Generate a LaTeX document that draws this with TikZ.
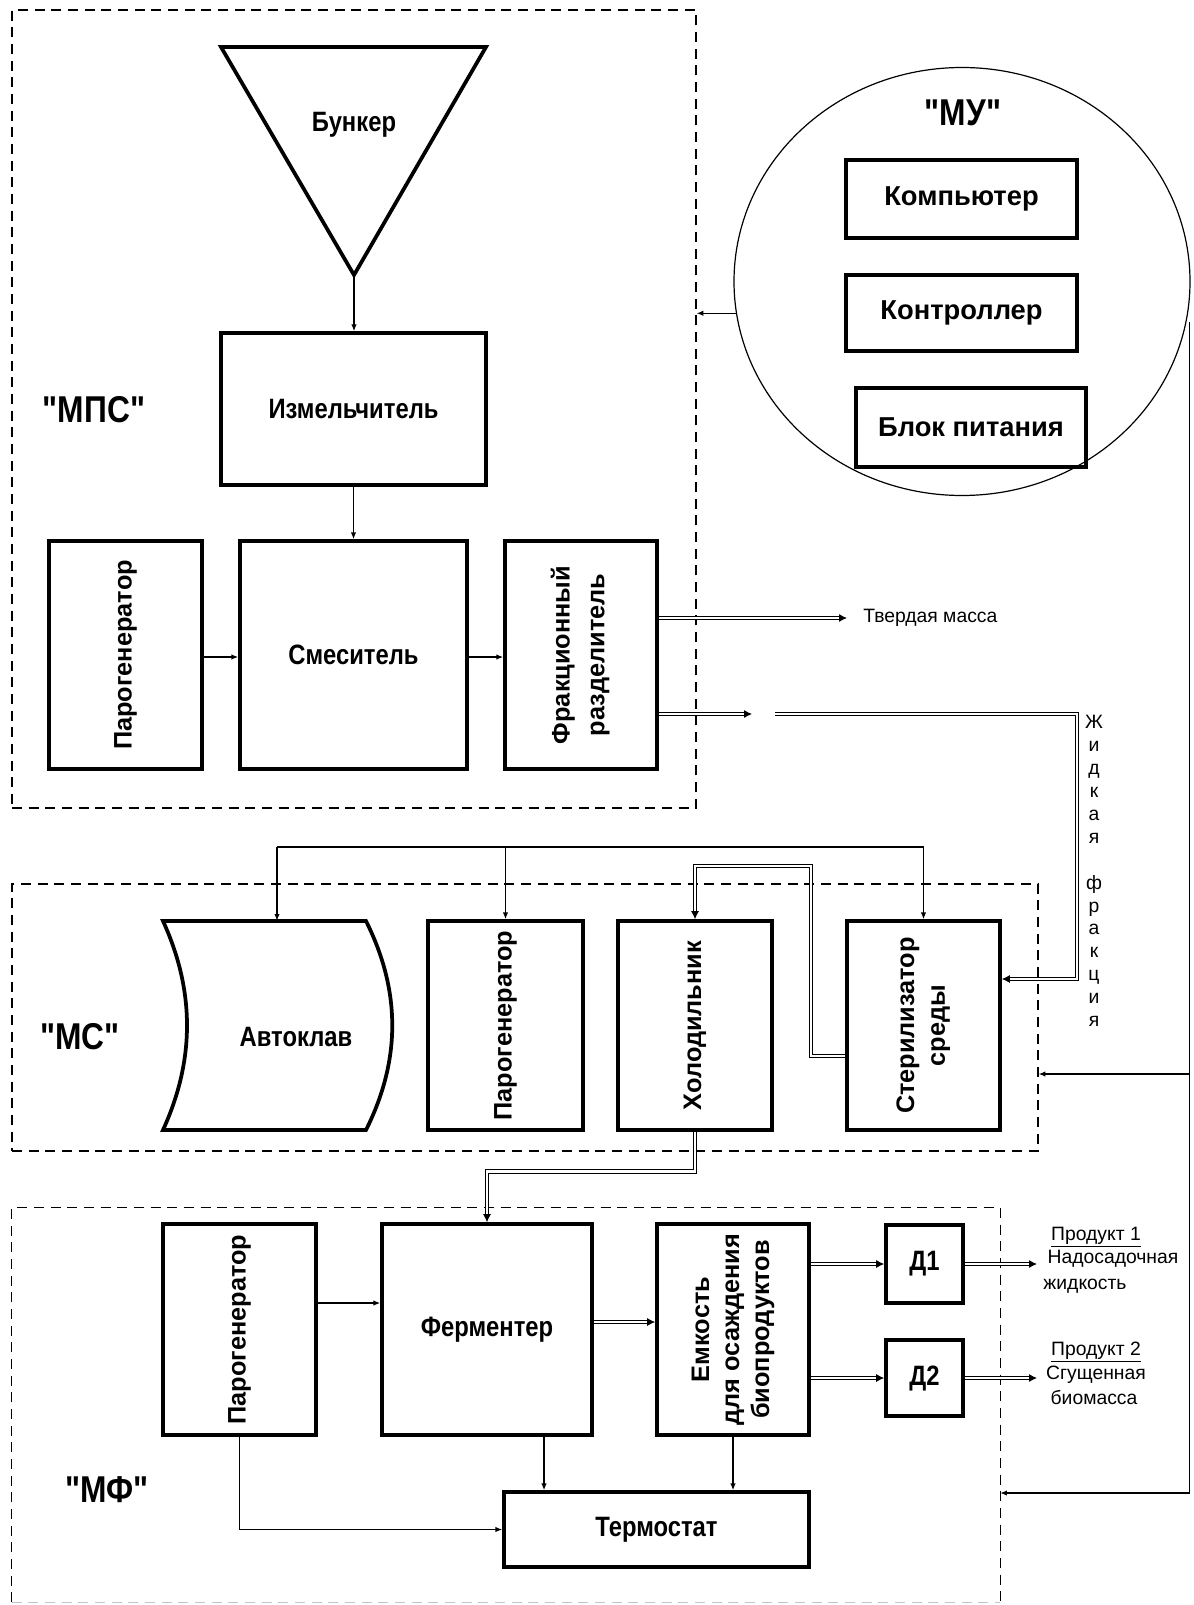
\documentclass[tikz,border=0pt]{standalone}
\usepackage{fontspec}
\setmainfont{Liberation Sans}
\newfontfamily\narrowfont[FakeStretch=0.85]{Liberation Sans}
\usetikzlibrary{arrows.meta,calc,fit,shapes.geometric}
\begin{document}
\begin{tikzpicture}[x=0.75pt,y=-0.75pt,
  box/.style={draw, line width=2.8pt, inner sep=0pt, align=center},
  nb/.style={font=\narrowfont\bfseries\fontsize{21}{24}\selectfont},
  rb/.style={font=\bfseries\fontsize{19}{22.5}\selectfont},
  mb/.style={font=\bfseries\fontsize{20.5}{24}\selectfont},
  big/.style={font=\narrowfont\bfseries\fontsize{28}{30}\selectfont, inner sep=0pt},
  lbl/.style={font=\fontsize{14.5}{17.2}\selectfont, inner sep=0pt},
  group/.style={line width=1pt, dash pattern=on 7.5pt off 5pt},
  arr/.style={line width=0.8pt, -{Latex[length=5pt,width=4pt]}},
  thinl/.style={line width=0.8pt},
  dline/.style={double, line width=0.7pt, double distance=2.2pt},
  darr/.style={dline, -{Latex[length=6pt,width=6pt]}}
]
\useasboundingbox (0,0) rectangle (1193,1605);

% ---------- group frames ----------
\node[group, draw, fit={(12,10) (696,808)}, inner sep=0pt] (mps) {};
\node[group, draw, fit={(12,884) (1038,1151)}, inner sep=0pt] (ms) {};
\node[fit={(12,1208) (1000,1602)}, inner sep=0pt] (mf) {};
\draw[group] (mf.south west) -- (mf.north west) -- (mf.north east) -- (mf.south east);
\draw[group, gray!45] (mf.south west) -- (mf.south east);

\node[big] (lmps) at (94,410) {"МПС"};
\node[big] (lms) at (80,1037) {"МС"};
\node[big] (lmf) at (107,1490) {"МФ"};

% ---------- MPS ----------
\draw[line width=2.8pt] (221,47) -- (486,47) -- (354,275) -- cycle;
\node[nb] (bunker) at (354,125) {Бункер};
\coordinate (bunkerTip) at (354,275);
\node[box, nb, minimum width=198.75pt, minimum height=114pt] (izm) at (353.5,409) {Измельчитель};
\node[box, rb, minimum width=114.75pt, minimum height=171pt] (par1) at (125.5,655) {\rotatebox{90}{Парогенератор}};
\node[box, nb, minimum width=170.25pt, minimum height=171pt] (smes) at (353.5,655) {Смеситель};
\node[box, rb, minimum width=114pt, minimum height=171pt] (frac) at (581,655)
  {\rotatebox{90}{\begin{tabular}{@{}c@{}}Фракционный\\[3.5pt]разделитель\end{tabular}}};

\draw[arr] (bunkerTip) -- (bunkerTip |- izm.north);
\draw[arr] (izm.south) -- (smes.north);
\draw[arr] (par1.east |- 0,657) -- (smes.west |- 0,657);
\draw[arr] (smes.east |- 0,657) -- (frac.west |- 0,657);

\coordinate (tmEnd) at (847,618);
\draw[darr] (frac.east |- tmEnd) -- (tmEnd);
\node[lbl, anchor=west] (tm) at (863,618) {Твердая масса};

\coordinate (lfEnd) at (752,714);
\coordinate (lfA) at (775,714);
\draw[darr] (frac.east |- lfEnd) -- (lfEnd);

% ---------- MU ----------
\node[draw, ellipse, line width=0.9pt, minimum width=342pt, minimum height=321pt, inner sep=0pt] (mu) at (962,281.5) {};
\node[big] (lmu) at (963,113) {"МУ"};
\node[box, mb, minimum width=173.25pt, minimum height=58.5pt] (comp) at (961.5,199) {Компьютер};
\node[box, mb, minimum width=173.25pt, minimum height=57pt] (ctrl) at (961.5,313) {Контроллер};
\node[box, mb, minimum width=172.5pt, minimum height=59.25pt] (pow) at (971,427.5) {Блок питания};
\draw[arr] (mu.188.6) -- (mps.east |- mu.188.6);
\coordinate (muR) at ([xshift=-0.75pt]mu.east |- 0,322);

% ---------- MS ----------
\node[inner sep=0pt, minimum width=152.25pt, minimum height=156.75pt] (auto) at (264.5,1025.5) {};
\draw[line width=2.8pt] (163,921) -- (366,921) .. controls (401,991) and (401,1060) .. (366,1130)
  -- (163,1130) .. controls (195,1060) and (195,991) .. (163,921) -- cycle;
\node[nb] (autot) at (296,1037) {Автоклав};
\node[box, rb, minimum width=116.25pt, minimum height=156.75pt] (par2) at (505.5,1025.5) {\rotatebox{90}{Парогенератор}};
\node[box, rb, minimum width=115.5pt, minimum height=156.75pt] (hol) at (695,1025.5) {\rotatebox{90}{Холодильник}};
\node[box, rb, minimum width=114.75pt, minimum height=156.75pt] (stl) at (923.5,1025.5)
  {\rotatebox{90}{\begin{tabular}{@{}c@{}}Стерилизатор\\[0.5pt]среды\end{tabular}}};

\coordinate (busL) at (277,847);
\draw[thinl] (busL) -- (stl.north |- busL);
\draw[arr] (busL) -- (busL |- auto.north);
\draw[arr] (par2.north |- busL) -- (par2.north);
\draw[arr] (stl.north |- busL) -- (stl.north);

\draw[darr] (stl.west |- 0,1056) -| (811,866) -| (hol.north);

\draw[darr] (lfA) -- (1077,714) -- (1077,979) -- (stl.east |- 0,979);
\node[lbl, align=center] (lf) at (1094,871) {Ж\\и\\д\\к\\а\\я\\[17.2pt]ф\\р\\а\\к\\ц\\и\\я};

\draw[thinl] (muR) -- (muR |- 0,1493);
\draw[arr] (muR |- 0,1074) -- (ms.east |- 0,1074);
\draw[arr] (muR |- 0,1493) -- (mf.east |- 0,1493);

% ---------- MF ----------
\node[box, rb, minimum width=114.75pt, minimum height=158.25pt] (par3) at (239.5,1329.5) {\rotatebox{90}{Парогенератор}};
\node[box, nb, minimum width=157.5pt, minimum height=158.25pt] (ferm) at (487,1329.5) {Ферментер};
\node[box, rb, minimum width=114pt, minimum height=158.25pt] (emk) at (733,1329.5)
  {\rotatebox{90}{\begin{tabular}{@{}c@{}}Емкость\\для осаждения\\биопродуктов\end{tabular}}};
\node[box, nb, minimum width=57.75pt, minimum height=58.5pt] (d1) at (924.5,1264) {Д1};
\node[box, nb, minimum width=57.75pt, minimum height=57pt] (d2) at (924.5,1378) {Д2};
\node[box, nb, minimum width=228.75pt, minimum height=56.25pt] (term) at (656.5,1529.5) {Термостат};

\draw[darr] (hol.south) -- ++(0,40) -| (ferm.north);
\draw[arr] (par3.east |- 0,1303) -- (ferm.west |- 0,1303);
\draw[darr] (ferm.east |- 0,1322) -- (emk.west |- 0,1322);
\draw[darr] (emk.east |- d1.west) -- (d1.west);
\draw[darr] (emk.east |- d2.west) -- (d2.west);
\coordinate (o1) at (1037,1264);
\coordinate (o2) at (1037,1378);
\draw[darr] (d1.east) -- (o1);
\draw[darr] (d2.east) -- (o2);
\coordinate (fermS) at ([xshift=42.75pt]ferm.south);
\draw[arr] (fermS) -- (fermS |- term.north);
\draw[arr] (emk.south) -- (emk.south |- term.north);
\draw[arr] (par3.south) |- (term.west);

\node[lbl] (p1) at (1096,1237) {\underline{Продукт 1}};
\node[lbl] (p1a) at (1113,1259) {Надосадочная};
\node[lbl] (p1b) at (1085,1286) {жидкость};
\node[lbl] (p2) at (1096,1352) {\underline{Продукт 2}};
\node[lbl] (p2a) at (1096,1375) {Сгущенная};
\node[lbl] (p2b) at (1094,1397) {биомасса};
\end{tikzpicture}
\end{document}
